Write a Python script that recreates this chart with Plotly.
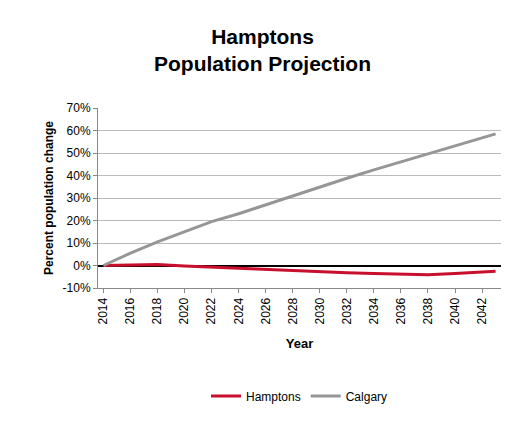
import plotly.graph_objects as go

years = [2014, 2016, 2018, 2020, 2022, 2024, 2026, 2028, 2030, 2032, 2034, 2036, 2038, 2040, 2043]
hamptons = [0, 0.2, 0.5, -0.2, -0.7, -1.2, -1.8, -2.4, -2.8, -3.2, -3.5, -3.8, -4.1, -3.5, -2.6]
calgary = [0, 5.5, 10.5, 15.0, 19.5, 23.0, 27.0, 31.0, 35.0, 38.8, 42.5, 46.0, 49.5, 53.0, 58.5]
tick_years = list(range(2014, 2043, 2))
pct_ticks = [-10, 0, 10, 20, 30, 40, 50, 60, 70]
pct_labels = [f"{v}%" for v in pct_ticks]

fig = go.Figure()
fig.add_trace(go.Scatter(x=years, y=hamptons, name="Hamptons", mode="lines",
                         line=dict(color="#c8102e", width=3)))
fig.add_trace(go.Scatter(x=years, y=calgary, name="Calgary", mode="lines",
                         line=dict(color="#969696", width=3)))
fig.update_layout(
    width=509, height=425, paper_bgcolor="white", plot_bgcolor="white",
    font=dict(family="Liberation Sans, Arial", size=12, color="black"),
    title=dict(text="<b>Hamptons<br>Population Projection</b>", x=0.5, xanchor="center",
               y=0.915, yanchor="top", font=dict(size=21)),
    margin=dict(l=90, r=16, t=100, b=145),
    legend=dict(orientation="h", x=0.5, xanchor="center", y=-0.52, yanchor="top",
                font=dict(size=12)),
    xaxis=dict(range=[2013.6, 2043.4], tickvals=tick_years, tickangle=-90,
               showgrid=False, showline=True, linecolor="#888", ticks="outside",
               tickcolor="#888", ticklen=4,
               title=dict(text="<b>Year</b>", font=dict(size=13))),
    yaxis=dict(range=[-10, 70], tickvals=pct_ticks, ticktext=pct_labels,
               showgrid=True, gridcolor="#bbbbbb", showline=True, linecolor="#888",
               ticks="outside", tickcolor="#888", ticklen=4,
               zeroline=True, zerolinecolor="black", zerolinewidth=1.5,
               title=dict(text="<b>Percent population change</b>", font=dict(size=12),
                          standoff=6)),
)
fig.write_html("out.html")
